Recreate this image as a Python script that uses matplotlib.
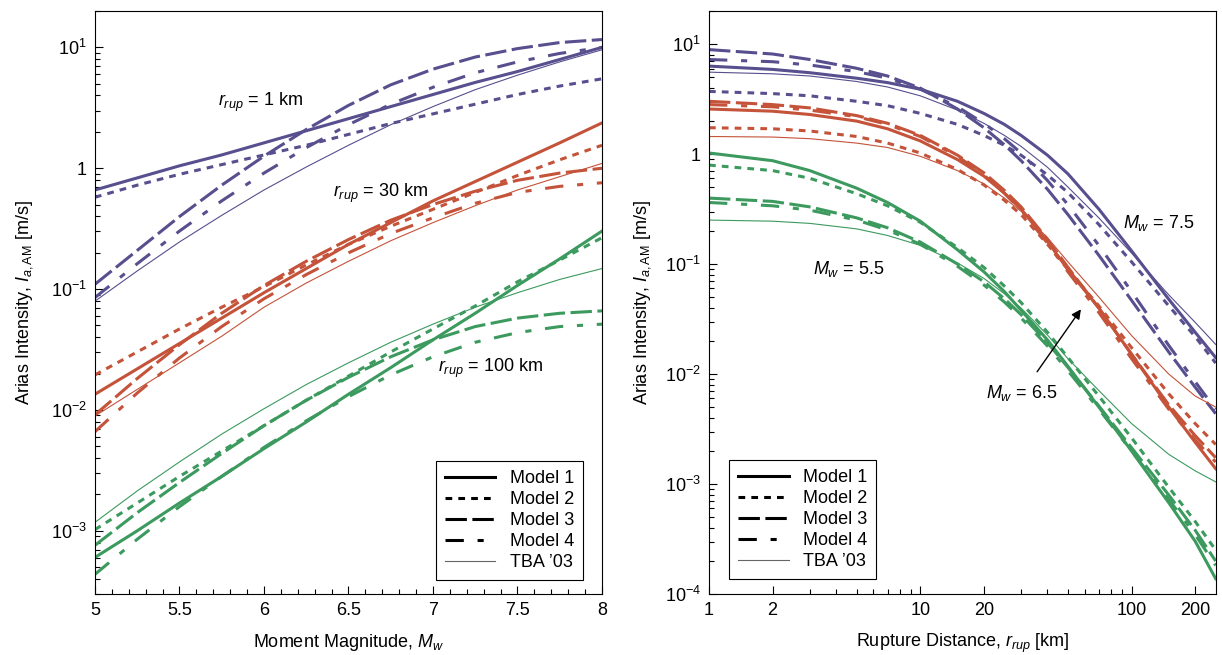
import matplotlib
matplotlib.use('Agg')
import matplotlib.pyplot as plt
import numpy as np
from matplotlib.ticker import FixedLocator, FuncFormatter, LogLocator, MultipleLocator, NullFormatter
from matplotlib.lines import Line2D

plt.rcParams['font.family'] = ['Liberation Sans', 'DejaVu Sans']
plt.rcParams['mathtext.fontset'] = 'custom'
plt.rcParams['mathtext.rm'] = 'Liberation Sans'
plt.rcParams['mathtext.it'] = 'Liberation Sans:italic'
plt.rcParams['mathtext.bf'] = 'Liberation Sans:bold'

# ---- data (log10 of Arias intensity in m/s) ----
# order inside each group: Model 1, Model 2, Model 3, Model 4, TBA '03
mw = [5, 5.25, 5.5, 5.75, 6, 6.25, 6.5, 6.75, 7, 7.25, 7.5, 7.75, 8]

r1_log = [
    [-0.18, -0.08, 0.02, 0.11, 0.21, 0.31, 0.41, 0.51, 0.61, 0.71, 0.80, 0.90, 1.0],
    [-0.24, -0.14, -0.05, 0.03, 0.11, 0.19, 0.28, 0.37, 0.45, 0.53, 0.61, 0.68, 0.74],
    [-0.96, -0.68, -0.40, -0.14, 0.10, 0.32, 0.52, 0.69, 0.82, 0.92, 0.99, 1.04, 1.065],
    [-1.07, -0.79, -0.52, -0.27, -0.04, 0.17, 0.36, 0.53, 0.67, 0.79, 0.88, 0.95, 1.0],
    [-1.10, -0.85, -0.61, -0.39, -0.18, 0.01, 0.19, 0.36, 0.51, 0.65, 0.77, 0.88, 0.98],
]
r30_log = [
    [-1.87, -1.66, -1.45, -1.24, -1.03, -0.83, -0.63, -0.45, -0.27, -0.11, 0.05, 0.21, 0.375],
    [-1.71, -1.52, -1.33, -1.15, -0.98, -0.80, -0.63, -0.48, -0.34, -0.20, -0.06, 0.07, 0.19],
    [-2.04, -1.74, -1.46, -1.20, -0.97, -0.77, -0.59, -0.43, -0.30, -0.19, -0.10, -0.04, 0.0],
    [-2.18, -1.86, -1.57, -1.31, -1.08, -0.88, -0.70, -0.54, -0.41, -0.29, -0.20, -0.15, -0.12],
    [-2.05, -1.83, -1.61, -1.39, -1.15, -0.95, -0.77, -0.60, -0.45, -0.31, -0.18, -0.07, 0.04],
]
r100_log = [
    [-3.22, -3.0, -2.77, -2.55, -2.32, -2.10, -1.87, -1.65, -1.42, -1.20, -0.97, -0.75, -0.52],
    [-2.99, -2.77, -2.55, -2.34, -2.13, -1.92, -1.72, -1.52, -1.33, -1.14, -0.94, -0.76, -0.575],
    [-3.12, -2.85, -2.60, -2.36, -2.13, -1.92, -1.73, -1.56, -1.42, -1.31, -1.24, -1.20, -1.18],
    [-3.36, -3.07, -2.80, -2.55, -2.31, -2.09, -1.89, -1.71, -1.56, -1.44, -1.36, -1.31, -1.29],
    [-2.93, -2.67, -2.43, -2.20, -1.99, -1.79, -1.61, -1.44, -1.29, -1.15, -1.03, -0.92, -0.83],
]

rrup = [1, 2, 3, 5, 7, 10, 15, 20, 25, 30, 40, 50, 70, 100, 150, 200, 250]

m75_log = [
    [0.80, 0.77, 0.74, 0.69, 0.65, 0.59, 0.48, 0.37, 0.27, 0.17, -0.01, -0.18, -0.50, -0.88, -1.32, -1.62, -1.85],
    [0.57, 0.55, 0.53, 0.48, 0.44, 0.37, 0.27, 0.17, 0.08, -0.01, -0.19, -0.35, -0.64, -0.98, -1.38, -1.66, -1.90],
    [0.95, 0.91, 0.86, 0.78, 0.71, 0.60, 0.41, 0.24, 0.085, -0.06, -0.32, -0.55, -0.92, -1.33, -1.80, -2.12, -2.36],
    [0.86, 0.84, 0.81, 0.75, 0.69, 0.59, 0.43, 0.28, 0.14, 0.01, -0.24, -0.46, -0.83, -1.25, -1.74, -2.07, -2.32],
    [0.745, 0.73, 0.71, 0.66, 0.61, 0.53, 0.40, 0.28, 0.17, 0.07, -0.12, -0.30, -0.58, -0.90, -1.28, -1.53, -1.73],
]
m65_log = [
    [0.41, 0.39, 0.36, 0.30, 0.23, 0.12, -0.05, -0.20, -0.355, -0.50, -0.795, -1.05, -1.40, -1.82, -2.30, -2.62, -2.86],
    [0.24, 0.23, 0.21, 0.16, 0.10, 0.01, -0.14, -0.28, -0.42, -0.55, -0.82, -1.05, -1.38, -1.76, -2.18, -2.45, -2.64],
    [0.48, 0.45, 0.42, 0.35, 0.28, 0.17, -0.01, -0.17, -0.33, -0.48, -0.775, -1.03, -1.40, -1.82, -2.28, -2.56, -2.76],
    [0.45, 0.43, 0.40, 0.34, 0.27, 0.16, -0.02, -0.19, -0.355, -0.51, -0.81, -1.07, -1.44, -1.86, -2.32, -2.60, -2.80],
    [0.16, 0.155, 0.14, 0.10, 0.06, -0.02, -0.15, -0.27, -0.40, -0.52, -0.76, -0.98, -1.30, -1.65, -2.00, -2.20, -2.30],
]
m55_log = [
    [0.01, -0.06, -0.15, -0.31, -0.44, -0.61, -0.87, -1.07, -1.25, -1.42, -1.69, -1.93, -2.30, -2.70, -3.17, -3.52, -3.86],
    [-0.10, -0.15, -0.22, -0.36, -0.47, -0.62, -0.85, -1.03, -1.20, -1.35, -1.62, -1.85, -2.20, -2.58, -3.03, -3.34, -3.60],
    [-0.40, -0.43, -0.48, -0.58, -0.67, -0.80, -1.00, -1.16, -1.315, -1.46, -1.715, -1.94, -2.29, -2.67, -3.10, -3.42, -3.70],
    [-0.44, -0.47, -0.51, -0.60, -0.69, -0.82, -1.02, -1.19, -1.345, -1.49, -1.745, -1.97, -2.32, -2.70, -3.14, -3.46, -3.74],
    [-0.60, -0.61, -0.63, -0.68, -0.74, -0.83, -0.99, -1.13, -1.27, -1.40, -1.645, -1.86, -2.15, -2.45, -2.73, -2.88, -2.98],
]

model_names = ['Model 1', 'Model 2', 'Model 3', 'Model 4', "TBA \u201903"]

# ---- styles ----
purple = '#574f8e'
red = '#c4533a'
green = '#3c9a5f'
thick = 2.2
styles = [
    dict(lw=thick, ls='-'),
    dict(lw=thick, dashes=(2.2, 2.0)),
    dict(lw=thick, dashes=(7.0, 1.8)),
    dict(lw=thick, dashes=(6.0, 4.5, 2.0, 4.5)),
    dict(lw=0.8, ls='-'),
]


def log_fmt(v, pos):
    e = int(round(np.log10(v)))
    if e == 0:
        return '1'
    return r'$10^{%d}$' % e


def style_axis(ax):
    ax.set_yscale('log')
    ax.yaxis.set_major_locator(LogLocator(base=10, numticks=20))
    ax.yaxis.set_minor_locator(LogLocator(base=10, subs=np.arange(2, 10), numticks=20))
    ax.yaxis.set_major_formatter(FuncFormatter(log_fmt))
    ax.yaxis.set_minor_formatter(NullFormatter())
    ax.tick_params(which='both', direction='in', top=False, right=False, labelsize=13, pad=6)
    ax.tick_params(which='major', length=6, width=0.8)
    ax.tick_params(which='minor', length=3.3, width=0.8)
    for s in ax.spines.values():
        s.set_linewidth(0.8)


def add_legend(ax, loc, anchor):
    handles = []
    for i, st in enumerate(styles):
        col = '#666666' if i == 4 else 'black'
        handles.append(Line2D([0], [0], color=col, **st))
    leg = ax.legend(handles, model_names, loc=loc, bbox_to_anchor=anchor, borderaxespad=0,
                    fontsize=13, handlelength=2.8, labelspacing=0.22, handletextpad=0.8,
                    borderpad=0.5, fancybox=False, framealpha=1, edgecolor='black')
    leg.get_frame().set_linewidth(0.8)


fig = plt.figure(figsize=(12.22, 6.55), dpi=100)
ax1 = fig.add_axes([0.0777, 0.0931, 0.4149, 0.8901])
ax2 = fig.add_axes([0.5802, 0.0931, 0.4146, 0.8901])

# left panel: magnitude scaling
for group, col in [(r1_log, purple), (r30_log, red), (r100_log, green)]:
    for vals, st in zip(group, styles):
        ax1.plot(mw, np.power(10.0, vals), color=col, **st)

style_axis(ax1)
ax1.set_xlim(5, 8)
ax1.set_ylim(3e-4, 20)
ax1.xaxis.set_major_locator(MultipleLocator(0.5))
ax1.xaxis.set_minor_locator(MultipleLocator(0.1))
ax1.xaxis.set_major_formatter(FuncFormatter(lambda v, p: '%g' % v))
ax1.set_xlabel(r'Moment Magnitude, $M_w$', fontsize=13, labelpad=9)
ax1.set_ylabel(r'Arias Intensity, $I_{a,\mathrm{AM}}$ [m/s]', fontsize=13, labelpad=11)
ax1.text(5.98, 3.5, r'$r_{rup}$ = 1 km', fontsize=13, ha='center', va='center')
ax1.text(6.69, 0.62, r'$r_{rup}$ = 30 km', fontsize=13, ha='center', va='center')
ax1.text(7.34, 0.022, r'$r_{rup}$ = 100 km', fontsize=13, ha='center', va='center')
add_legend(ax1, 'lower right', (1 - 19 / 507, 14 / 583))

# right panel: distance scaling
for group, col in [(m75_log, purple), (m65_log, red), (m55_log, green)]:
    for vals, st in zip(group, styles):
        ax2.plot(rrup, np.power(10.0, vals), color=col, **st)

style_axis(ax2)
ax2.set_xscale('log')
ax2.set_xlim(1, 250)
ax2.set_ylim(1e-4, 20)
ax2.xaxis.set_major_locator(FixedLocator([1, 2, 10, 20, 100, 200]))
ax2.xaxis.set_minor_locator(FixedLocator([3, 4, 5, 6, 7, 8, 9, 30, 40, 50, 60, 70, 80, 90]))
ax2.xaxis.set_major_formatter(FuncFormatter(lambda v, p: '%g' % v))
ax2.xaxis.set_minor_formatter(NullFormatter())
ax2.tick_params(which='both', direction='in', top=False, right=False)
ax2.set_xlabel(r'Rupture Distance, $r_{rup}$ [km]', fontsize=13, labelpad=9)
ax2.set_ylabel(r'Arias Intensity, $I_{a,\mathrm{AM}}$ [m/s]', fontsize=13, labelpad=8)
ax2.text(134, 0.236, r'$M_w$ = 7.5', fontsize=13, ha='center', va='center')
ax2.text(4.6, 0.09, r'$M_w$ = 5.5', fontsize=13, ha='center', va='center')
ax2.text(30.1, 0.0067, r'$M_w$ = 6.5', fontsize=13, ha='center', va='center')
ax2.annotate('', xy=(58.6, 0.0407), xytext=(35.1, 0.01),
             arrowprops=dict(arrowstyle='-|>', color='black', lw=1.0, mutation_scale=14))
add_legend(ax2, 'lower left', (20 / 507, 15 / 583))

fig.savefig('out.png', dpi=100)
